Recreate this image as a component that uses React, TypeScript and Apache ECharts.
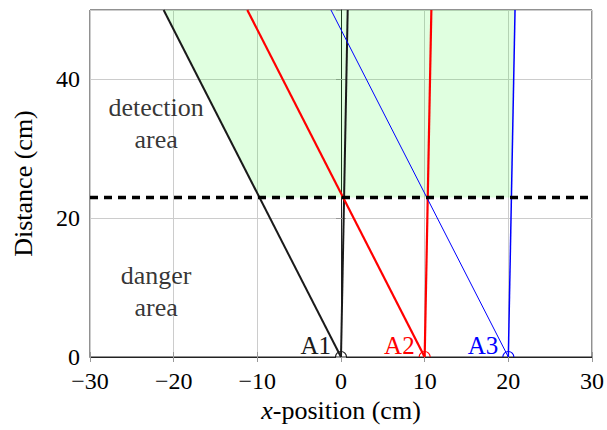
import React, { useEffect, useRef } from 'react';
import * as echarts from 'echarts';

// ---- data ----
const sensorX = [0, 10, 20];
const sensorNames = ['A1', 'A2', 'A3'];
const sensorColors = ['#1a1a1a', '#ff0000', '#0000ff'];
const slantTopX = [-21.2, -11.2, -1.2]; // x at y = 50 of the slanted beams
const steepTopX = [0.8, 10.8, 20.8]; // x at y = 50 of the near-vertical beams
const slantWidths = [2, 2.2, 1];
const steepWidths = [2, 2.2, 1.5];
const yTop = 50;
const dangerY = 23;
const detectionZone = [
  [-21.2, 50],
  [20.8, 50],
  [20.37, 23],
  [-9.75, 23],
];
const areaLabels = [
  { x: -22.1, y: 33.6, text: 'detection\narea' },
  { x: -22.1, y: 9.5, text: 'danger\narea' },
];
const xRange = [-30, 30];
const yRange = [0, 50];

const FONT = 'Liberation Serif';

export default function App() {
  const ref = useRef<HTMLDivElement>(null);
  useEffect(() => {
    if (!ref.current) return;
    const chart = echarts.init(ref.current, null, { renderer: 'svg' });
    const fmt = (v: number) => (v < 0 ? '\u2212' + Math.abs(v) : String(v));

    const series: any[] = [];
    // green detection zone
    series.push({
      type: 'custom',
      data: [0],
      z: 1,
      silent: true,
      renderItem: (params: any, api: any) => ({
        type: 'polygon',
        shape: { points: detectionZone.map((p) => api.coord(p)) },
        style: { fill: 'rgba(0,255,0,0.12)' },
      }),
    });
    // beams
    sensorX.forEach((sx, i) => {
      series.push({
        type: 'line',
        data: [
          [sx, 0],
          [slantTopX[i], yTop],
        ],
        showSymbol: false,
        z: 3,
        lineStyle: { color: sensorColors[i], width: slantWidths[i] },
      });
      series.push({
        type: 'line',
        data: [
          [sx, 0],
          [steepTopX[i], yTop],
        ],
        showSymbol: false,
        z: 3,
        lineStyle: { color: sensorColors[i], width: steepWidths[i] },
      });
    });
    // danger threshold
    series.push({
      type: 'line',
      data: [
        [xRange[0], dangerY],
        [xRange[1], dangerY],
      ],
      showSymbol: false,
      z: 4,
      lineStyle: { color: '#000', width: 3.5, type: [8, 6] },
    });
    // sensor markers
    series.push({
      type: 'custom',
      data: sensorX.map((x, i) => [x, 0, i]),
      z: 6,
      clip: false,
      renderItem: (params: any, api: any) => {
        const i = api.value(2);
        const p = api.coord([api.value(0), api.value(1)]);
        return {
          type: 'group',
          children: [
            {
              type: 'arc',
              shape: { cx: p[0], cy: p[1], r: 5.5, startAngle: Math.PI, endAngle: 2 * Math.PI },
              style: { stroke: sensorColors[i], lineWidth: 1.2, fill: 'none' },
            },
            {
              type: 'text',
              x: p[0] - 10,
              y: p[1] + 0.5,
              style: {
                text: sensorNames[i],
                fill: sensorColors[i],
                font: `25px "${FONT}"`,
                align: 'right',
                verticalAlign: 'bottom',
              },
            },
          ],
        };
      },
    });
    // area text labels
    series.push({
      type: 'scatter',
      data: areaLabels.map((l) => [l.x, l.y, l.text]),
      symbolSize: 0,
      z: 5,
      label: {
        show: true,
        position: 'inside',
        formatter: (p: any) => p.value[2],
        fontFamily: FONT,
        fontSize: 26,
        lineHeight: 32,
        color: '#000',
        align: 'center',
      },
    });

    const axisCommon = {
      type: 'value',
      axisTick: { inside: true, length: 5, lineStyle: { color: '#999' } },
    };

    chart.setOption({
      animation: false,
      grid: {
        left: 90,
        right: 14,
        top: 10,
        bottom: 73,
        show: true,
        borderColor: '#222',
        borderWidth: 1,
      },
      xAxis: [
        {
          ...axisCommon,
          min: xRange[0],
          max: xRange[1],
          interval: 10,
          name: '{i|x}-position (cm)',
          nameLocation: 'middle',
          nameGap: 39,
          nameTextStyle: {
            fontFamily: FONT,
            fontSize: 26,
            color: '#000',
            rich: { i: { fontFamily: FONT, fontSize: 26, fontStyle: 'italic', color: '#000' } },
          },
          axisLine: { lineStyle: { color: '#222', width: 1 } },
          axisLabel: {
            formatter: fmt,
            fontFamily: FONT,
            fontSize: 24,
            lineHeight: 24,
            color: '#000',
            margin: 12,
          },
          splitLine: { show: true, lineStyle: { color: '#cccccc', width: 1 } },
        },
        {
          ...axisCommon,
          position: 'top',
          min: xRange[0],
          max: xRange[1],
          interval: 10,
          axisLine: { show: false },
          axisLabel: { show: false },
          splitLine: { show: false },
        },
      ],
      yAxis: [
        {
          ...axisCommon,
          min: yRange[0],
          max: yRange[1],
          interval: 20,
          name: 'Distance (cm)',
          nameLocation: 'middle',
          nameGap: 54,
          nameTextStyle: { fontFamily: FONT, fontSize: 26, color: '#000' },
          axisLine: { show: true, lineStyle: { color: '#222', width: 1 } },
          axisLabel: {
            formatter: fmt,
            fontFamily: FONT,
            fontSize: 24,
            lineHeight: 24,
            color: '#000',
            margin: 10,
            showMaxLabel: false,
          },
          splitLine: { show: true, lineStyle: { color: '#cccccc', width: 1 } },
        },
        {
          ...axisCommon,
          position: 'right',
          min: yRange[0],
          max: yRange[1],
          interval: 20,
          axisLine: { show: false },
          axisLabel: { show: false },
          splitLine: { show: false },
        },
      ],
      series,
    });
    return () => chart.dispose();
  }, []);
  return (
    <div
      ref={ref}
      style={{ position: 'fixed', left: 0, top: 0, width: 607, height: 430, background: '#fff' }}
    />
  );
}
